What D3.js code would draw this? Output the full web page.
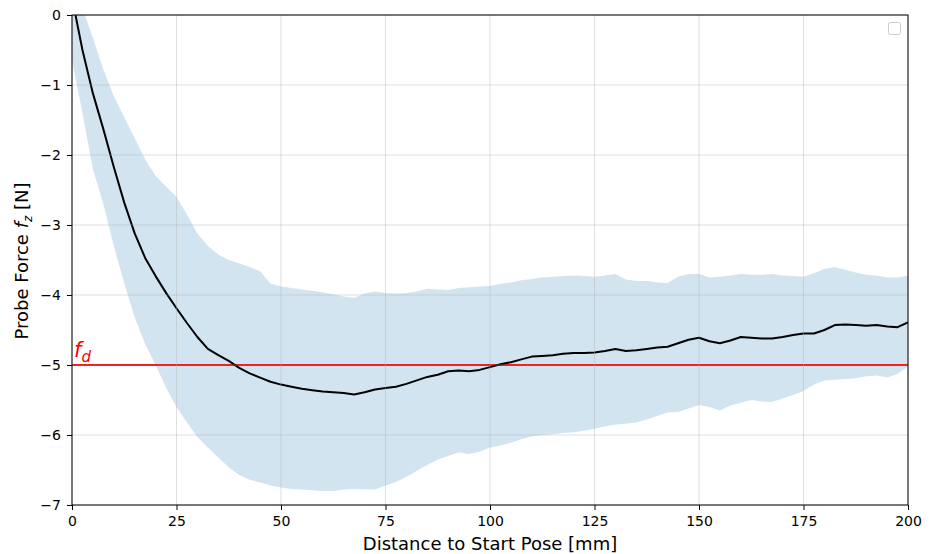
<!DOCTYPE html>
<html>
<head>
<meta charset="utf-8">
<script src="https://cdn.jsdelivr.net/npm/d3@7"></script>
<style>
  body { margin: 0; background: #fff; }
  svg { font-family: "DejaVu Sans", sans-serif; }
</style>
</head>
<body>
<svg id="chart" width="933" height="554"></svg>
<script>
// distance to start pose [mm], sampled every 2.5 mm
var distance = d3.range(0, 200.01, 2.5);

var meanForce = [0.25, -0.5, -1.12, -1.63, -2.17, -2.68, -3.12, -3.47, -3.73, -3.97,
  -4.19, -4.4, -4.6, -4.77, -4.86, -4.94, -5.04, -5.12, -5.18, -5.24,
  -5.28, -5.31, -5.34, -5.36, -5.38, -5.39, -5.4, -5.42, -5.39, -5.35,
  -5.33, -5.31, -5.27, -5.22, -5.17, -5.14, -5.09, -5.08, -5.09, -5.07,
  -5.03, -4.99, -4.96, -4.92, -4.88, -4.87, -4.86, -4.84, -4.83, -4.83,
  -4.82, -4.8, -4.77, -4.8, -4.79, -4.77, -4.75, -4.74, -4.69, -4.64,
  -4.61, -4.66, -4.69, -4.65, -4.6, -4.61, -4.62, -4.62, -4.6, -4.57,
  -4.55, -4.55, -4.5, -4.43, -4.42, -4.43, -4.44, -4.43, -4.45, -4.46, -4.39];

var upperForce = [0.6, 0.1, -0.33, -0.78, -1.16, -1.46, -1.76, -2.06, -2.3, -2.45,
  -2.6, -2.85, -3.12, -3.3, -3.42, -3.5, -3.55, -3.6, -3.66, -3.84,
  -3.88, -3.9, -3.92, -3.94, -3.96, -3.99, -4.02, -4.04, -3.98, -3.95,
  -3.97, -3.98, -3.97, -3.95, -3.91, -3.92, -3.93, -3.9, -3.89, -3.88,
  -3.87, -3.84, -3.82, -3.79, -3.77, -3.75, -3.74, -3.73, -3.72, -3.73,
  -3.74, -3.72, -3.7, -3.78, -3.8, -3.8, -3.82, -3.83, -3.74, -3.7,
  -3.7, -3.75, -3.74, -3.72, -3.7, -3.71, -3.71, -3.7, -3.72, -3.73,
  -3.74, -3.69, -3.63, -3.6, -3.64, -3.68, -3.71, -3.72, -3.75, -3.75, -3.72];

var lowerForce = [-0.65, -1.4, -2.2, -2.7, -3.3, -3.83, -4.32, -4.7, -5.0, -5.32,
  -5.6, -5.82, -6.03, -6.18, -6.32, -6.46, -6.57, -6.64, -6.68, -6.72,
  -6.75, -6.77, -6.78, -6.79, -6.8, -6.8, -6.78, -6.77, -6.78, -6.78,
  -6.72, -6.67, -6.6, -6.51, -6.43, -6.35, -6.3, -6.25, -6.27, -6.24,
  -6.18, -6.15, -6.11, -6.06, -6.02, -6.0, -5.99, -5.97, -5.96, -5.94,
  -5.91, -5.88, -5.85, -5.84, -5.82, -5.78, -5.73, -5.68, -5.67, -5.62,
  -5.57, -5.6, -5.65, -5.58, -5.54, -5.5, -5.52, -5.53, -5.48, -5.43,
  -5.37, -5.28, -5.22, -5.21, -5.2, -5.19, -5.16, -5.15, -5.18, -5.13, -5.02];

var desiredForce = -5;
var xTicks = [0, 25, 50, 75, 100, 125, 150, 175, 200];
var yTicks = [0, -1, -2, -3, -4, -5, -6, -7];

var margin = {top: 15, right: 25, bottom: 49, left: 72};
var width = 933 - margin.left - margin.right;
var height = 554 - margin.top - margin.bottom;

var svg = d3.select("#chart");
var g = svg.append("g")
    .attr("transform", "translate(" + margin.left + "," + margin.top + ")");

var x = d3.scaleLinear().domain([0, 200]).range([0, width]);
var y = d3.scaleLinear().domain([-7, 0]).range([height, 0]);

var rows = distance.map(function (d, i) {
  return {x: d, mean: meanForce[i], hi: upperForce[i], lo: lowerForce[i]};
});

svg.append("defs").append("clipPath").attr("id", "clip")
  .append("rect").attr("width", width).attr("height", height);

var plot = g.append("g").attr("clip-path", "url(#clip)");

// shaded band
plot.append("path")
    .datum(rows)
    .attr("fill", "#1f77b4")
    .attr("fill-opacity", 0.2)
    .attr("d", d3.area()
      .x(function (d) { return x(d.x); })
      .y0(function (d) { return y(d.lo); })
      .y1(function (d) { return y(d.hi); }));

// grid
g.append("g")
    .selectAll("line").data(xTicks).join("line")
    .attr("x1", function (d) { return x(d); }).attr("x2", function (d) { return x(d); })
    .attr("y1", 0).attr("y2", height)
    .attr("stroke", "#b0b0b0").attr("stroke-opacity", 0.5).attr("stroke-width", 0.8);
g.append("g")
    .selectAll("line").data(yTicks).join("line")
    .attr("y1", function (d) { return y(d); }).attr("y2", function (d) { return y(d); })
    .attr("x1", 0).attr("x2", width)
    .attr("stroke", "#b0b0b0").attr("stroke-opacity", 0.5).attr("stroke-width", 0.8);

// desired force
plot.append("line")
    .attr("x1", 0).attr("x2", width)
    .attr("y1", y(desiredForce)).attr("y2", y(desiredForce))
    .attr("stroke", "red").attr("stroke-width", 2);

// mean line
plot.append("path")
    .datum(rows)
    .attr("fill", "none")
    .attr("stroke", "black")
    .attr("stroke-width", 2)
    .attr("stroke-linejoin", "round")
    .attr("d", d3.line()
      .x(function (d) { return x(d.x); })
      .y(function (d) { return y(d.mean); }));

// f_d label
var fd = g.append("text")
    .attr("x", 2).attr("y", y(desiredForce) - 8)
    .attr("fill", "red").attr("font-size", 21).attr("font-style", "italic");
fd.append("tspan").text("f");
fd.append("tspan").attr("dy", 5).attr("font-size", 15).text("d");

// axes
var fmt = function (d) { return d < 0 ? "\u2212" + Math.abs(d) : d; };
var xAxis = g.append("g")
    .attr("transform", "translate(0," + height + ")")
    .call(d3.axisBottom(x).tickValues(xTicks).tickSize(5).tickPadding(6));
var yAxis = g.append("g")
    .call(d3.axisLeft(y).tickValues(yTicks).tickFormat(fmt).tickSize(5).tickPadding(6));
[xAxis, yAxis].forEach(function (a) {
  a.select(".domain").remove();
  a.selectAll("text").attr("font-size", 14).attr("fill", "#000")
    .attr("font-family", "DejaVu Sans");
  a.selectAll("line").attr("stroke", "#000").attr("stroke-width", 1);
});

// frame
g.append("rect")
    .attr("width", width).attr("height", height)
    .attr("fill", "none").attr("stroke", "#000").attr("stroke-width", 1);

// axis labels
g.append("text")
    .attr("x", width / 2).attr("y", height + 45)
    .attr("text-anchor", "middle").attr("font-size", 18)
    .text("Distance to Start Pose [mm]");

var yl = g.append("text")
    .attr("transform", "translate(" + (-44) + "," + (height / 2 + 1) + ") rotate(-90)")
    .attr("text-anchor", "middle").attr("font-size", 18);
yl.append("tspan").text("Probe Force ");
yl.append("tspan").attr("font-style", "italic").text("f");
yl.append("tspan").attr("font-style", "italic").attr("font-size", 12).attr("dy", 4).text("z");
yl.append("tspan").attr("dy", -4).text(" [N]");

// empty legend box
g.append("rect")
    .attr("x", width - 19.5).attr("y", 7.5)
    .attr("width", 12).attr("height", 12).attr("rx", 2)
    .attr("fill", "#fff").attr("stroke", "#ccc").attr("stroke-width", 1);
</script>
</body>
</html>
